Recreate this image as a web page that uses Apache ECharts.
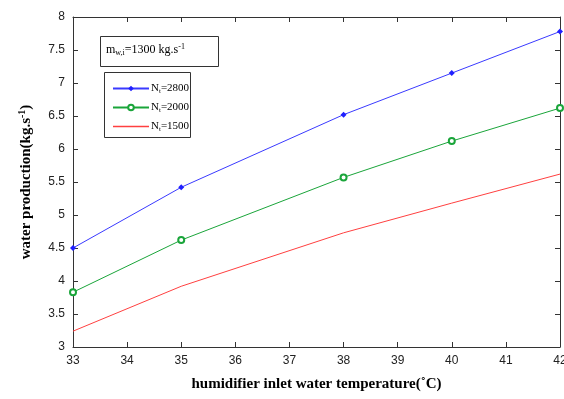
<!DOCTYPE html>
<html>
<head>
<meta charset="utf-8">
<script src="https://cdn.jsdelivr.net/npm/echarts@6/dist/echarts.min.js"></script>
<style>
  body { margin: 0; background: #fff; }
  #chart { width: 564px; height: 399px; }
</style>
</head>
<body>
<div id="chart"></div>
<script>
var temps = [33, 35, 38, 40, 42];
var prod2800 = [4.5, 5.42, 6.52, 7.15, 7.78];
var prod2000 = [3.83, 4.62, 5.57, 6.12, 6.62];
var prod1500 = [3.24, 3.92, 4.73, 5.18, 5.62];
var seriesNames = ["2800", "2000", "1500"];

function pairs(xs, ys) {
  var out = [];
  for (var i = 0; i < xs.length; i++) {
    out.push([xs[i], ys[i]]);
  }
  return out;
}

var myChart = echarts.init(document.getElementById("chart"));

var tickLabel = { color: "#222", fontFamily: "Liberation Sans", fontSize: 12 };
var axisLine = { show: true, lineStyle: { color: "#333", width: 1 } };

var option = {
  backgroundColor: "#fff",
  animation: false,
  grid: { left: 73, right: 4, top: 17, bottom: 52, outerBoundsMode: "none", containLabel: false },
  legend: {
    orient: "vertical",
    left: 107,
    top: 78,
    itemWidth: 36,
    itemHeight: 7,
    itemGap: 7,
    data: [
      { name: "2800" },
      { name: "2000" },
      { name: "1500", icon: "path://M0,0H36V1.4H0Z" }
    ],
    formatter: function (name) {
      return "{n|N}{s|t}{n|=" + name + "}";
    },
    textStyle: {
      padding: [0, 0, 0, -3],
      rich: {
        n: { fontFamily: "Liberation Serif", fontSize: 11, color: "#000" },
        s: { fontFamily: "Liberation Serif", fontSize: 7, color: "#000", verticalAlign: "bottom", padding: [6, 0, 0, 0] }
      }
    }
  },
  xAxis: [
    {
      type: "value",
      min: 33,
      max: 42,
      interval: 1,
      axisLine: axisLine,
      axisTick: { inside: true, length: 5, lineStyle: { color: "#333" } },
      axisLabel: tickLabel,
      splitLine: { show: false },
      name: "humidifier inlet water temperature(\u02DAC)",
      nameLocation: "middle",
      nameGap: 30,
      nameTextStyle: { fontFamily: "Liberation Serif", fontWeight: "bold", fontSize: 15, color: "#000" }
    },
    {
      type: "value",
      position: "top",
      min: 33,
      max: 42,
      interval: 1,
      axisLine: axisLine,
      axisTick: { inside: true, length: 5, lineStyle: { color: "#333" } },
      axisLabel: { show: false },
      splitLine: { show: false }
    }
  ],
  yAxis: [
    {
      type: "value",
      min: 3,
      max: 8,
      interval: 0.5,
      axisLine: axisLine,
      axisTick: { inside: true, length: 5, lineStyle: { color: "#333" } },
      axisLabel: tickLabel,
      splitLine: { show: false },
      name: "{t|water production(kg.s}{sup|-1}{t|)}",
      nameLocation: "middle",
      nameGap: 38,
      nameTextStyle: {
        rich: {
          t: { fontFamily: "Liberation Serif", fontWeight: "bold", fontSize: 15, color: "#000" },
          sup: { fontFamily: "Liberation Serif", fontWeight: "bold", fontSize: 10, color: "#000", verticalAlign: "top", padding: [0, 0, 8, 0] }
        }
      }
    },
    {
      type: "value",
      position: "right",
      min: 3,
      max: 8,
      interval: 0.5,
      axisLine: axisLine,
      axisTick: { inside: true, length: 5, lineStyle: { color: "#333" } },
      axisLabel: { show: false },
      splitLine: { show: false }
    }
  ],
  series: [
    {
      name: seriesNames[0],
      type: "line",
      data: pairs(temps, prod2800),
      symbol: "diamond",
      symbolSize: 6,
      itemStyle: { color: "#2020ff" },
      lineStyle: { color: "#3a3aff", width: 1 }
    },
    {
      name: seriesNames[1],
      type: "line",
      data: pairs(temps, prod2000),
      symbol: "emptyCircle",
      symbolSize: 6,
      itemStyle: { color: "#1aa53a", borderWidth: 1.2 },
      lineStyle: { color: "#1aa53a", width: 1 }
    },
    {
      name: seriesNames[2],
      type: "line",
      data: pairs(temps, prod1500),
      symbol: "none",
      itemStyle: { color: "#ff4040" },
      lineStyle: { color: "#ff4040", width: 1 }
    }
  ],
  graphic: [
    {
      type: "rect",
      left: 100,
      top: 36,
      shape: { width: 118, height: 30 },
      style: { fill: "#fff", stroke: "#333", lineWidth: 1 },
      z: 5
    },
    {
      type: "text",
      left: 106,
      top: 43,
      z: 6,
      style: {
        text: "{n|m}{s|w,i}{n|=1300 kg.s}{p|-1}",
        rich: {
          n: { fontFamily: "Liberation Serif", fontSize: 12, color: "#000" },
          s: { fontFamily: "Liberation Serif", fontSize: 8, color: "#000", padding: [6, 0, 0, 0] },
          p: { fontFamily: "Liberation Serif", fontSize: 8, color: "#000", padding: [0, 0, 6, 0] }
        }
      }
    },
    {
      type: "rect",
      left: 104,
      top: 72,
      shape: { width: 86, height: 65 },
      style: { fill: "#fff", stroke: "#333", lineWidth: 1 },
      z: -1
    }
  ]
};

myChart.setOption(option);
</script>
</body>
</html>
